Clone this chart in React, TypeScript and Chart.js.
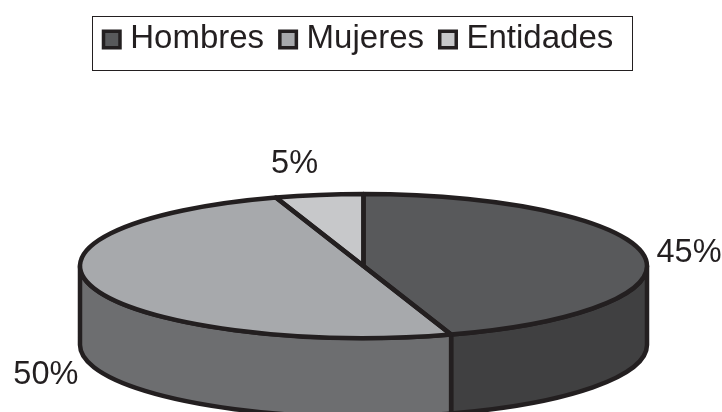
import React, { useEffect, useRef } from "react";
import { Chart, registerables } from "chart.js";

Chart.register(...registerables);

const categories = ["Hombres", "Mujeres", "Entidades"];
const shares = [45, 50, 5];
const topColors = ["#58595b", "#a7a9ac", "#c7c8ca"];
const wallColors = ["#404041", "#6d6e70", "#939598"];
const labelOffsets = [
  [45.5, -2],
  [-48, 86.5],
  [-24.6, -30.5],
];

const INK = "#231f20";
const CX = 363.5;
const CY = 266;
const RX = 283.5;
const RY = 72;
const DEPTH = 79;
const EDGE = 4.5;
const FONT = "Liberation Sans";

const pie3d = {
  id: "pie3d",
  beforeDatasetDraw(chart: any) {
    const ctx = chart.ctx;
    const arcs = chart.getDatasetMeta(0).data;
    ctx.save();
    ctx.strokeStyle = INK;
    ctx.lineWidth = EDGE;
    ctx.lineJoin = "round";
    arcs.forEach((arc: any, i: number) => {
      const TAU = Math.PI * 2;
      let s = arc.startAngle;
      let e = arc.endAngle;
      if (e <= 0) {
        s += TAU;
        e += TAU;
      }
      const a0 = Math.max(s, 0);
      const a1 = Math.min(e, Math.PI);
      if (a1 <= a0) return;
      ctx.beginPath();
      ctx.ellipse(CX, CY + DEPTH, RX, RY, 0, a0, a1);
      ctx.ellipse(CX, CY, RX, RY, 0, a1, a0, true);
      ctx.closePath();
      ctx.fillStyle = wallColors[i];
      ctx.fill();
      ctx.stroke();
    });
    ctx.restore();

    const r = arcs[0].outerRadius;
    ctx.save();
    ctx.translate(CX, CY);
    ctx.scale(RX / r, RY / r);
    ctx.translate(-arcs[0].x, -arcs[0].y);
  },
  afterDatasetDraw(chart: any) {
    const ctx = chart.ctx;
    ctx.restore();
    const arcs = chart.getDatasetMeta(0).data;
    ctx.save();
    ctx.strokeStyle = INK;
    ctx.lineWidth = EDGE;
    ctx.lineJoin = "round";
    arcs.forEach((arc: any) => {
      ctx.beginPath();
      ctx.moveTo(CX, CY);
      ctx.ellipse(CX, CY, RX, RY, 0, arc.startAngle, arc.endAngle);
      ctx.closePath();
      ctx.stroke();
    });
    ctx.fillStyle = INK;
    ctx.font = `32.5px "${FONT}"`;
    ctx.textAlign = "center";
    ctx.textBaseline = "middle";
    arcs.forEach((arc: any, i: number) => {
      const mid = (arc.startAngle + arc.endAngle) / 2;
      const x = CX + RX * Math.cos(mid) + labelOffsets[i][0];
      const y = CY + RY * Math.sin(mid) + labelOffsets[i][1];
      ctx.fillText(`${shares[i]}%`, x, y);
    });
    ctx.restore();
  },
  afterDraw(chart: any) {
    const ctx = chart.ctx;
    const boxes = chart.legend.legendHitBoxes;
    ctx.save();
    ctx.strokeStyle = INK;
    ctx.lineWidth = 1;
    ctx.strokeRect(92.5, 16.5, 540, 54);
    boxes.forEach((b: any, i: number) => {
      const size = 16.5;
      const y = b.top + b.height / 2 - size / 2 + 1;
      ctx.fillStyle = topColors[i];
      ctx.strokeStyle = INK;
      ctx.lineWidth = 3.5;
      ctx.beginPath();
      ctx.rect(b.left - 0.25, y, size, size);
      ctx.fill();
      ctx.stroke();
    });
    ctx.restore();
  },
};

export default function App() {
  const ref = useRef<HTMLCanvasElement>(null);
  useEffect(() => {
    const chart = new Chart(ref.current!, {
      type: "pie",
      data: {
        labels: categories,
        datasets: [
          {
            data: shares,
            backgroundColor: topColors,
            borderWidth: 0,
            clip: false,
          } as any,
        ],
      },
      options: {
        animation: false,
        responsive: false,
        events: [],
        layout: { padding: { top: 6, bottom: 0, left: 0, right: 5 } },
        plugins: {
          tooltip: { enabled: false },
          legend: {
            position: "top",
            labels: {
              boxWidth: 10,
              boxHeight: 10,
              padding: 16,
              color: INK,
              font: { family: FONT, size: 33 },
              generateLabels: () =>
                categories.map((text, i) => ({
                  text,
                  fillStyle: "rgba(0,0,0,0)",
                  strokeStyle: "rgba(0,0,0,0)",
                  lineWidth: 0,
                  fontColor: INK,
                  index: i,
                })),
            },
          },
        },
      },
      plugins: [pie3d],
    });
    return () => chart.destroy();
  }, []);
  return (
    <div style={{ position: "fixed", left: 0, top: 0, width: 722, height: 412, background: "#fff" }}>
      <canvas ref={ref} width={722} height={412} style={{ display: "block" }} />
    </div>
  );
}
